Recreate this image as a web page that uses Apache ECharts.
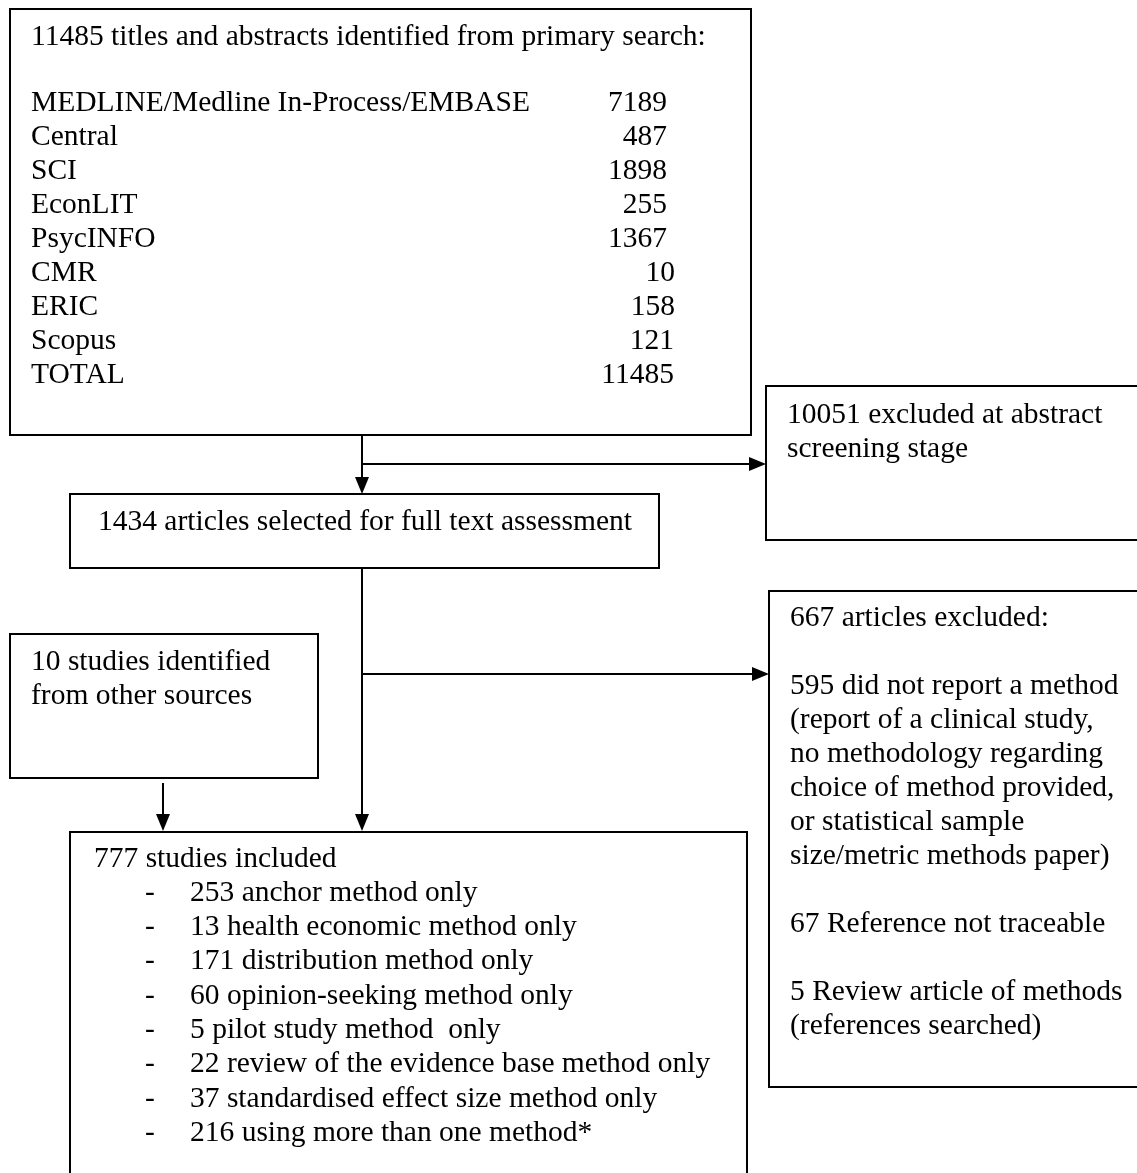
<!DOCTYPE html>
<html><head><meta charset="utf-8">
<script src="https://cdn.jsdelivr.net/npm/echarts@6/dist/echarts.min.js"></script>
<style>html,body{margin:0;padding:0;background:#fff}#c{width:1137px;height:1173px}</style>
</head><body><div id="c"></div>
<script>
// ---- data ----
const searchTitle = "11485 titles and abstracts identified from primary search:";
const sources = ["MEDLINE/Medline In-Process/EMBASE","Central","SCI","EconLIT","PsycINFO","CMR","ERIC","Scopus","TOTAL"];
const sourceCounts = [7189, 487, 1898, 255, 1367, 10, 158, 121, 11485];
const screenedOut = ["10051 excluded at abstract", "screening stage"];
const fullText = "1434 articles selected for full text assessment";
const otherSources = ["10 studies identified", "from other sources"];
const excludedLines = ["667 articles excluded:", "", "595 did not report a method", "(report of a clinical study,", "no methodology regarding", "choice of method provided,", "or statistical sample", "size/metric methods paper)", "", "67 Reference not traceable", "", "5 Review article of methods", "(references searched)"];
const includedTitle = "777 studies included";
const includedItems = ["253 anchor method only","13 health economic method only","171 distribution method only","60 opinion-seeking method only","5 pilot study method  only","22 review of the evidence base method only","37 standardised effect size method only","216 using more than one method*"];

// ---- layout ----
const FONT = "29.5px 'Liberation Serif', 'Times New Roman', serif";
const LH = 34;
const countRight = [667,667,667,667,667,675,675,674,674];
const g = [];
function box(x, y, w, h) {
  g.push({type:'rect', shape:{x:x, y:y, width:w, height:h}, style:{fill:'#fff', stroke:'#000', lineWidth:2}});
}
function txt(s, x, y, align) {
  g.push({type:'text', x:x, y:y, style:{text:s, font:FONT, fill:'#000', align:align||'left', verticalAlign:'middle'}, z:5});
}
function line(x1, y1, x2, y2) {
  g.push({type:'line', shape:{x1:x1, y1:y1, x2:x2, y2:y2}, style:{stroke:'#000', lineWidth:2}});
}
function arrowDown(x, y) { // tip at (x,y)
  g.push({type:'polygon', shape:{points:[[x-7,y-17],[x+7,y-17],[x,y]]}, style:{fill:'#000'}, z:6});
}
function arrowRight(x, y) {
  g.push({type:'polygon', shape:{points:[[x-17,y-7],[x-17,y+7],[x,y]]}, style:{fill:'#000'}, z:6});
}

// boxes
box(10, 9, 741, 426);
box(766, 386, 380, 154);
box(70, 494, 589, 74);
box(10, 634, 308, 144);
box(769, 591, 380, 496);
box(70, 832, 677, 360);

// box 1 text
txt(searchTitle, 31, 37);
sources.forEach((s, i) => {
  txt(s, 31, 103 + i * LH);
  txt(String(sourceCounts[i]), countRight[i], 103 + i * LH, 'right');
});
// screened out
screenedOut.forEach((s, i) => txt(s, 787, 415 + i * LH));
// full text
txt(fullText, 365, 522, 'center');
// other sources
otherSources.forEach((s, i) => txt(s, 31, 662 + i * LH));
// excluded
excludedLines.forEach((s, i) => { if (s) txt(s, 790, 618 + i * LH); });
// included
txt(includedTitle, 94, 859);
includedItems.forEach((s, i) => {
  txt('-', 145, 893 + i * 34.3);
  txt(s, 190, 893 + i * 34.3);
});

// connectors
line(362, 435, 362, 480); arrowDown(362, 494);
line(362, 464, 752, 464); arrowRight(766, 464);
line(362, 568, 362, 816); arrowDown(362, 831);
line(362, 674, 755, 674); arrowRight(769, 674);
line(163, 783, 163, 816); arrowDown(163, 831);

const chart = echarts.init(document.getElementById('c'), null, {renderer:'canvas'});
chart.setOption({backgroundColor:'#fff', animation:false, graphic:{elements:g}});
</script></body></html>
